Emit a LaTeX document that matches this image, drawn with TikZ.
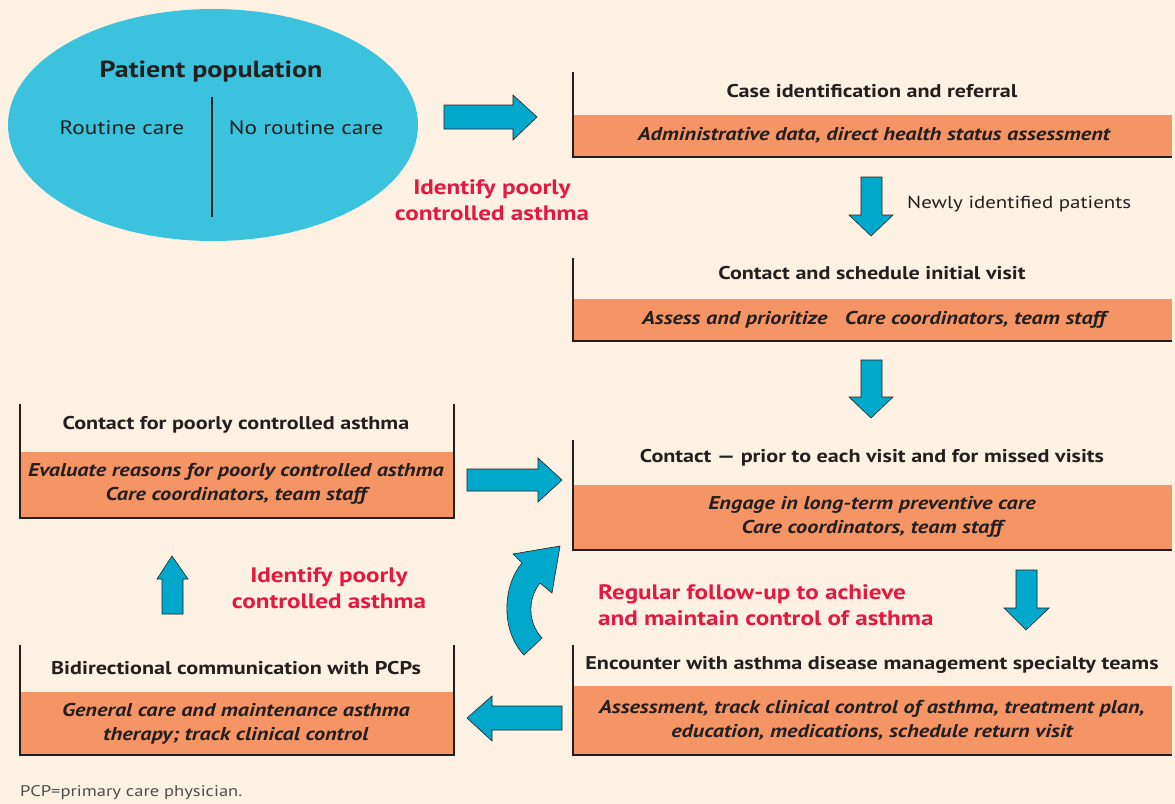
\documentclass[tikz,border=0pt]{standalone}
\usepackage{fontspec}
\setmainfont{PT Sans}[FakeStretch=1.2]
\definecolor{bg}{RGB}{253,241,227}
\definecolor{boxor}{RGB}{245,149,102}
\definecolor{arrblue}{RGB}{0,168,203}
\definecolor{ellblue}{RGB}{59,194,220}
\definecolor{redtxt}{RGB}{228,25,63}
\definecolor{ink}{RGB}{35,31,32}
\begin{document}
\begin{tikzpicture}[x=1bp,y=-1bp,
  border/.style={draw=ink,line width=2.6bp},
  orband/.style={fill=boxor},
  ttl/.style={font=\fontsize{18.5}{21}\selectfont\bfseries,text=ink,inner sep=0pt},
  sub/.style={font=\fontsize{18.6}{24.5}\selectfont\bfseries\itshape,text=ink,inner sep=0pt,align=center},
  redlab/.style={font=\fontsize{21}{26}\selectfont\bfseries,text=redtxt,inner sep=0pt},
  barrow/.style={fill=arrblue,draw=ink,line width=0.6bp,line join=miter}]
\fill[bg] (0,0) rectangle (1175,804);
\useasboundingbox (0,0) rectangle (1175,804);

% ellipse
\fill[ellblue] (213,125) ellipse [x radius=205, y radius=116];
\node[font=\fontsize{23.4}{26}\selectfont\bfseries,text=ink,inner sep=0pt] (pp) at (211,72) {Patient population};
\node[font=\fontsize{19.5}{24}\selectfont,text=ink,inner sep=0pt] (rc) at (122,128) {Routine care};
\node[font=\fontsize{19.5}{24}\selectfont,text=ink,inner sep=0pt] (nrc) at (306,128) {No routine care};
\draw[ink,line width=1.4bp] (212,97) -- (212,217);

% Box A
\fill[orband] (573,115) rectangle (1172,157);
\draw[border] (573,72) -- (573,157) -- (1172,157);
\node[ttl] (aT) at (872,91) {Case identification and referral};
\node[sub] (aS) at (874,135) {Administrative data, direct health status assessment};

% Box B
\fill[orband] (573,299) rectangle (1172,341);
\draw[border] (573,258) -- (573,341) -- (1172,341);
\node[ttl] (bT) at (872,273) {Contact and schedule initial visit};
\node[sub] (bS) at (874,320) {Assess and prioritize\hspace{0.95em}Care coordinators, team staff};

% Box C
\fill[orband] (573,485) rectangle (1172,550);
\draw[border] (573,440) -- (573,550) -- (1172,550);
\node[ttl] (cT) at (872,458) {Contact --- prior to each visit and for missed visits};
\node[sub] (cS) at (872,517) {Engage in long-term preventive care\\Care coordinators, team staff};

% Box D
\fill[orband] (573,686) rectangle (1172,755);
\draw[border] (573,645) -- (573,755) -- (1172,755);
\node[ttl] (dT) at (872,665) {Encounter with asthma disease management specialty teams};
\node[sub] (dS) at (872,720) {Assessment, track clinical control of asthma, treatment plan,\\education, medications, schedule return visit};

% Box E
\fill[orband] (20,452) rectangle (454,518);
\draw[border] (20,404) -- (20,518) -- (454,518) -- (454,404);
\node[ttl] (eT) at (236,425) {Contact for poorly controlled asthma};
\node[sub] (eS) at (236,484) {Evaluate reasons for poorly controlled asthma\\Care coordinators, team staff};

% Box F
\fill[orband] (20,692) rectangle (454,755);
\draw[border] (20,645) -- (20,755) -- (454,755) -- (454,645);
\node[ttl] (fT) at (236,668) {Bidirectional communication with PCPs};
\node[sub] (fS) at (236,724) {General care and maintenance asthma\\therapy; track clinical control};

% red labels
\node[redlab,align=center] (r1) at (492,200) {Identify poorly\\controlled asthma};
\node[redlab,align=center] (r2) at (329,588) {Identify poorly\\controlled asthma};
\node[redlab,align=left,anchor=west] (r3) at (598,605) {Regular follow-up to achieve\\and maintain control of asthma};

\node[font=\fontsize{17.5}{22}\selectfont,text=ink,inner sep=0pt,anchor=west] (newly) at (907,204) {Newly identified patients};

% block arrows
\draw[barrow] (444,105) -- (513,105) -- (513,95) -- (537,117) -- (513,140) -- (513,129) -- (444,129) -- cycle;
\draw[barrow] (861,177) -- (882,177) -- (882,215) -- (893,215) -- (871,236) -- (849,215) -- (861,215) -- cycle;
\draw[barrow] (861,360) -- (882,360) -- (882,397) -- (893,397) -- (871,418) -- (849,397) -- (861,397) -- cycle;
\draw[barrow] (467,469) -- (538,469) -- (538,458) -- (562,480) -- (538,502) -- (538,491) -- (467,491) -- cycle;
\draw[barrow] (162,614) -- (162,579) -- (157,579) -- (172,556) -- (188,579) -- (183,579) -- (183,614) -- cycle;
\draw[barrow] (1016,570) -- (1037,570) -- (1037,608) -- (1049,608) -- (1026,630) -- (1004,608) -- (1016,608) -- cycle;
\draw[barrow] (562,706) -- (492,706) -- (492,696) -- (467,718) -- (492,741) -- (492,730) -- (562,730) -- cycle;
% curved arrow
\draw[barrow] (560,546) -- (552,593) -- (540,583)
  .. controls (528,598) and (527,622) .. (542,638)
  -- (524,655)
  .. controls (500,630) and (503,585) .. (522,563)
  -- (513,554) -- cycle;

\node[font=\fontsize{15.5}{18}\selectfont,text=ink!80,inner sep=0pt,anchor=west] (foot) at (20,793) {PCP=primary care physician.};
\end{tikzpicture}
\end{document}
